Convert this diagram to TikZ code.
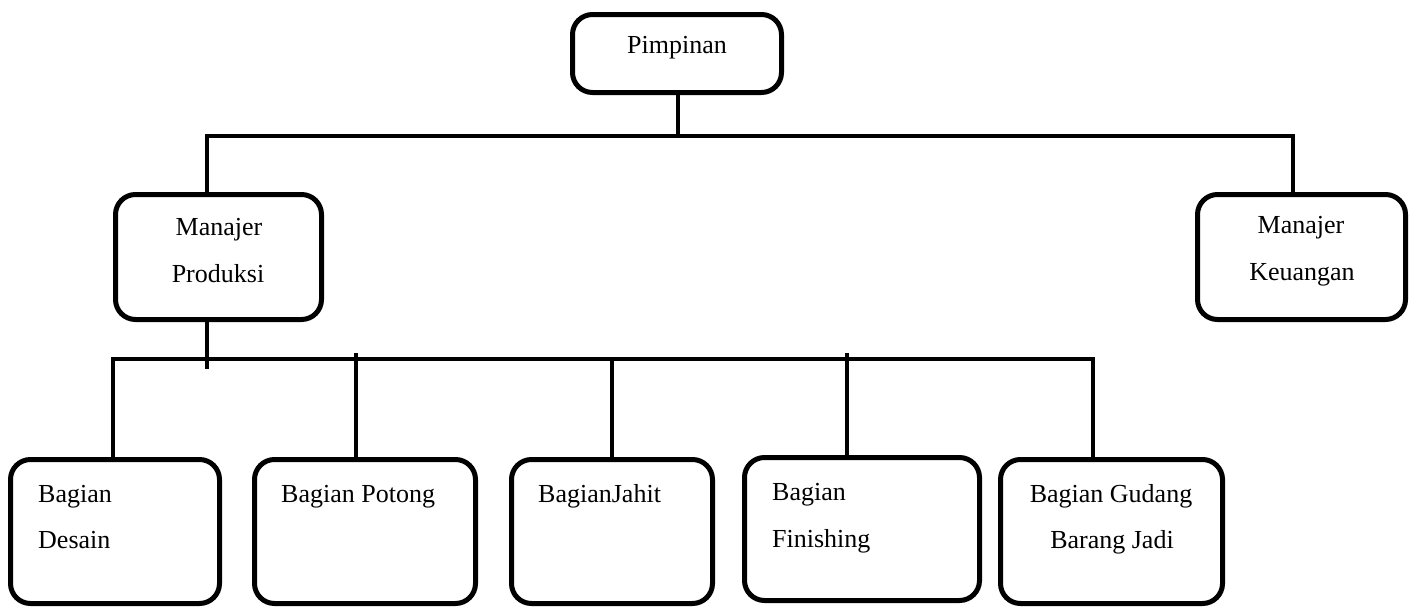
\documentclass[tikz,border=0pt]{standalone}
\usepackage{fontspec}
\setmainfont{Liberation Serif}
\begin{document}
\begin{tikzpicture}[x=1pt,y=-1pt,
  box/.style={draw=black, line width=5pt, rounded corners=20pt, fill=white, inner sep=0pt, outer sep=0pt},
  conn/.style={draw=black, line width=4pt},
  lbl/.style={inner sep=0pt, font=\fontsize{26}{30}\selectfont}]
\useasboundingbox (0,0) rectangle (1416,608);
% boxes
\node[box, minimum width=209pt, minimum height=78pt] (pim) at (677,53.5) {};
\node[box, minimum width=206pt, minimum height=125pt] (mp) at (218.5,257) {};
\node[box, minimum width=208pt, minimum height=125pt] (mk) at (1301.5,257) {};
\node[box, minimum width=209pt, minimum height=144pt] (b1) at (115,531.5) {};
\node[box, minimum width=221pt, minimum height=144pt] (b2) at (365,531.5) {};
\node[box, minimum width=201pt, minimum height=144pt] (b3) at (612,531.5) {};
\node[box, minimum width=235pt, minimum height=143pt] (b4) at (862,529) {};
\node[box, minimum width=222pt, minimum height=144pt] (b5) at (1111.5,531.5) {};
% texts
\node[lbl, anchor=base] (tpim) at (677,53) {Pimpinan};
\node[lbl, anchor=base] (tmp1) at (219,235) {Manajer};
\node[lbl, anchor=base] (tmp2) at (218,282) {Produksi};
\node[lbl, anchor=base] (tmk1) at (1301,233) {Manajer};
\node[lbl, anchor=base] (tmk2) at (1302,280) {Keuangan};
\node[lbl, anchor=base west] (tb1a) at (38,502) {Bagian};
\node[lbl, anchor=base west] (tb1b) at (38,548) {Desain};
\node[lbl, anchor=base west] (tb2) at (281,502) {Bagian Potong};
\node[lbl, anchor=base west] (tb3) at (538,502) {BagianJahit};
\node[lbl, anchor=base west] (tb4a) at (772,500) {Bagian};
\node[lbl, anchor=base west] (tb4b) at (772,547) {Finishing};
\node[lbl, anchor=base] (tb5a) at (1111,502) {Bagian Gudang};
\node[lbl, anchor=base] (tb5b) at (1112,548) {Barang Jadi};
% connector coordinates
\coordinate (topL) at (207,136);
\coordinate (topR) at (1293,136);
\coordinate (topM) at (678,136);
\coordinate (barL) at (113,359);
\coordinate (barR) at (1093,359);
\coordinate (mpEnd) at (207,369);
\coordinate (c2) at (356,353);
\coordinate (c3) at (612,359);
\coordinate (c4) at (847,353);
% top level
\draw[conn] (pim.south -| topM) -- (topM);
\draw[conn] (mp.north -| topL) -- (topL) -- (topR) -- (mk.north -| topR);
% second level
\draw[conn] (mp.south -| mpEnd) -- (mpEnd);
\draw[conn] (b1.north -| barL) -- (barL) -- (barR) -- (b5.north -| barR);
\draw[conn] (c2) -- (b2.north -| c2);
\draw[conn] (c3) -- (b3.north -| c3);
\draw[conn] (c4) -- (b4.north -| c4);
\end{tikzpicture}
\end{document}
